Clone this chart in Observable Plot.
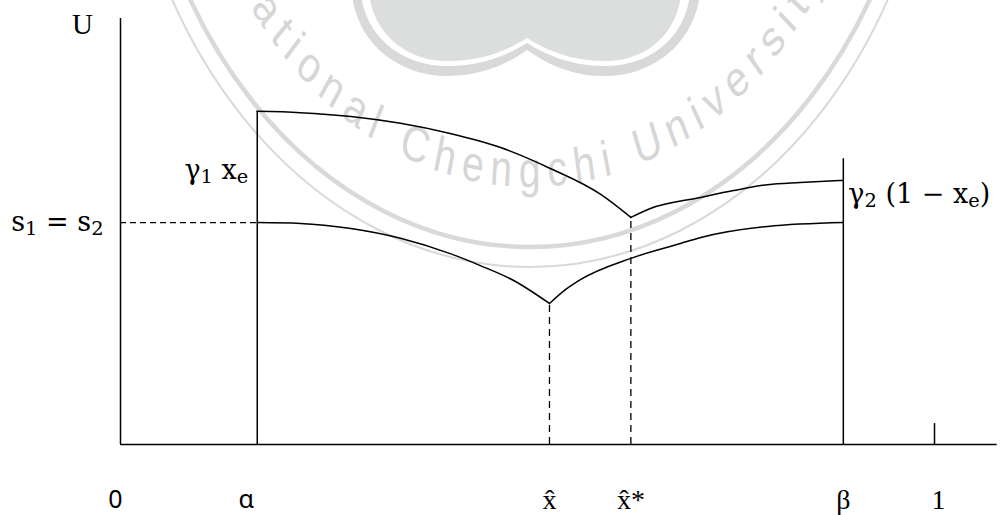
<!DOCTYPE html>
<html><head><meta charset="utf-8">
<script src="https://cdn.jsdelivr.net/npm/d3@7"></script>
<script src="https://cdn.jsdelivr.net/npm/@observablehq/plot@0.6"></script>
<style>
html,body{margin:0;padding:0;background:#fff;}
#chart svg{display:block;}
</style></head><body><div id="chart"></div>
<script>
// ---- key positions on the share axis (0 … 1) ----
const alpha = 0.168, xHat = 0.527, xStar = 0.627, beta = 0.888, one = 1;
const xAxisEnd = 1.077;
const uTop = 100;            // top of the U axis
const sLevel = 52.1;         // s1 = s2
const betaTop = 67.1;        // top of the β line
const oneTick = 4.9;         // small tick at 1

// ---- tick labels ----
const xLabelsSans = [{v: 0, t: "0"}, {v: alpha, t: "α"}];
const xLabelsSerif = [{v: xHat, t: "x̂"}, {v: xStar, t: "x̂*"}, {v: beta, t: "β"}];
const xLabelOne = [{v: one, t: "1"}];

// ---- curves ----
const upperLeftX = [0.168, 0.221, 0.283, 0.344, 0.405, 0.467, 0.528, 0.590, 0.627];
const upperLeftU = [78.2, 77.9, 77.0, 75.4, 73.0, 69.7, 64.8, 58.7, 53.3];
const upperRightX = [0.627, 0.651, 0.713, 0.753, 0.795, 0.835, 0.888];
const upperRightU = [53.3, 55.4, 58.0, 59.6, 61.0, 61.5, 62.0];
const lowerLeftX = [0.168, 0.221, 0.283, 0.344, 0.405, 0.442, 0.483, 0.527];
const lowerLeftU = [52.1, 51.9, 50.7, 48.4, 44.8, 42.0, 38.5, 33.1];
const lowerRightX = [0.527, 0.547, 0.565, 0.627, 0.688, 0.713, 0.795, 0.888];
const lowerRightU = [33.1, 36.4, 38.7, 43.7, 47.2, 48.6, 51.2, 52.1];

const pts = (xs, us) => xs.map((x, i) => ({x, u: us[i]}));
const upperLeft = pts(upperLeftX, upperLeftU);
const upperRight = pts(upperRightX, upperRightU);
const lowerLeft = pts(lowerLeftX, lowerLeftU);
const lowerRight = pts(lowerRightX, lowerRightU);

const serif = "'DejaVu Serif', serif";
const times = "'Liberation Serif', 'DejaVu Serif', serif";
const sans = "'Noto Sans', 'Open Sans', sans-serif";
const sw = 1.5;
const dash = "7,5";

const lab = (arr) => { const m = new Map(arr.map(d => [d.v, d.t])); return d => m.get(d); };

const plot = Plot.plot({
  width: 1000, height: 515,
  marginLeft: 120, marginRight: 66, marginTop: 18, marginBottom: 71,
  x: {domain: [0, 1]},
  y: {domain: [0, uTop]},
  style: {background: "white", color: "black"},
  marks: [
    // axes
    Plot.ruleX([0], {y1: 0, y2: uTop, strokeWidth: sw}),
    Plot.ruleY([0], {x1: 0, x2: xAxisEnd, strokeWidth: sw}),
    // vertical bounds
    Plot.ruleX([alpha], {y1: 0, y2: upperLeftU[0], strokeWidth: sw}),
    Plot.ruleX([beta], {y1: 0, y2: betaTop, strokeWidth: sw}),
    Plot.ruleX([one], {y1: 0, y2: oneTick, strokeWidth: sw}),
    // dashed guides
    Plot.ruleY([sLevel], {x1: 0, x2: alpha, strokeWidth: 1.3, strokeDasharray: "6,4"}),
    Plot.ruleX([xHat], {y1: 0, y2: lowerLeftU[lowerLeftU.length - 1], strokeWidth: 1.3, strokeDasharray: dash}),
    Plot.ruleX([xStar], {y1: 0, y2: upperLeftU[upperLeftU.length - 1], strokeWidth: 1.3, strokeDasharray: dash}),
    // curves
    Plot.line(upperLeft, {x: "x", y: "u", curve: "monotone-x", strokeWidth: sw}),
    Plot.line(upperRight, {x: "x", y: "u", curve: "monotone-x", strokeWidth: sw}),
    Plot.line(lowerLeft, {x: "x", y: "u", curve: "monotone-x", strokeWidth: sw}),
    Plot.line(lowerRight, {x: "x", y: "u", curve: "monotone-x", strokeWidth: sw}),
    // x tick labels
    Plot.axisX({ticks: [0], tickFormat: lab(xLabelsSans), label: null, tickSize: 0, tickPadding: 46, dx: -5, fontSize: 25, fontFamily: sans}),
    Plot.axisX({ticks: [alpha], tickFormat: lab(xLabelsSans), label: null, tickSize: 0, tickPadding: 46, dx: -11, fontSize: 25, fontFamily: sans}),
    Plot.axisX({ticks: xLabelsSerif.map(d => d.v), tickFormat: lab(xLabelsSerif), label: null, tickSize: 0, tickPadding: 45, fontSize: 28, fontFamily: times}),
    Plot.axisX({ticks: [one], tickFormat: lab(xLabelOne), label: null, tickSize: 0, tickPadding: 45, dx: 4, fontSize: 28, fontFamily: times}),
    // y label s1 = s2
    Plot.axisY({ticks: [sLevel], tickFormat: () => "s₁ = s₂", label: null, tickSize: 0, tickPadding: 17, fontSize: 27, fontFamily: serif}),
    // other labels
    Plot.text(["U"], {x: 0, y: uTop, dx: -38, dy: 6, text: d => d, fontSize: 29, fontFamily: times, lineAnchor: "middle"}),
    Plot.text(["γ₁ xₑ"], {x: alpha, y: upperLeftU[0], dx: -9, dy: 59, text: d => d, textAnchor: "end", fontSize: 27, fontFamily: serif, lineAnchor: "middle"}),
    Plot.text(["γ₂ (1 − xₑ)"], {x: beta, y: upperRightU[upperRightU.length - 1], dx: 5, dy: 14, text: d => d, textAnchor: "start", fontSize: 27, fontFamily: serif, lineAnchor: "middle"})
  ]
});

document.getElementById("chart").appendChild(plot);

// ---- typeset subscripts as real smaller, lowered text ----
const subMap = {"₁": "1", "₂": "2", "ₑ": "e"};
d3.select(plot).selectAll("text").each(function () {
  const el = this;
  const s = el.textContent;
  if (!/[₁₂ₑ]/.test(s)) return;
  el.textContent = "";
  let buf = "", lowered = false;
  const flush = (isSub) => {
    if (!buf) return;
    const t = document.createElementNS("http://www.w3.org/2000/svg", "tspan");
    t.textContent = buf;
    if (isSub) { t.setAttribute("font-size", "72%"); if (!lowered) { t.setAttribute("dy", "0.22em"); lowered = true; } }
    else if (lowered) { t.setAttribute("dy", "-0.16em"); lowered = false; }
    el.appendChild(t);
    buf = "";
  };
  let cur = false;
  for (const ch of s) {
    const isSub = ch in subMap;
    if (isSub !== cur) { flush(cur); cur = isSub; }
    buf += isSub ? subMap[ch] : ch;
  }
  flush(cur);
});

// ---- faint university watermark (background decoration) ----
const svg = d3.select(plot);
const wm = svg.insert("g", ":first-child").attr("class", "watermark");
const wmc = "#d9d9d9";
// logo
wm.append("path").attr("fill", wmc).attr("d", "M 352 -5 C 358 45, 400 76, 447 76 C 485 76, 510 62, 527 50 C 544 62, 569 76, 605 76 C 652 76, 693 45, 700 -5 Z");
wm.append("path").attr("fill", "white").attr("d", "M 361 -5 C 367 40, 405 66, 447 66 C 484 66, 509 54, 527 43 C 545 54, 570 66, 605 66 C 648 66, 684 40, 690 -5 Z");
wm.append("path").attr("fill", "#dcdddd").attr("d", "M 369 -5 C 375 36, 408 61, 447 61 C 483 61, 508 50, 527 38 C 546 50, 571 61, 605 61 C 645 61, 676 36, 681 -5 Z");
// rings and circular text (the seal is squeezed horizontally)
const seal = wm.append("g").attr("transform", "translate(530,-260) scale(0.78,1)");
seal.append("circle").attr("r", 527).attr("fill", "none").attr("stroke", wmc).attr("stroke-width", 2).attr("vector-effect", "non-scaling-stroke");
seal.append("circle").attr("r", 507).attr("fill", "none").attr("stroke", wmc).attr("stroke-width", 4.5).attr("vector-effect", "non-scaling-stroke");
const R = 447, a0 = 240 * Math.PI / 180, a1 = -60 * Math.PI / 180;
const p0 = [R * Math.cos(a0), R * Math.sin(a0)], p1 = [R * Math.cos(a1), R * Math.sin(a1)];
seal.append("defs").append("path").attr("id", "wmarc").attr("d", `M ${p0[0]} ${p0[1]} A ${R} ${R} 0 1 0 ${p1[0]} ${p1[1]}`);
seal.append("text").attr("fill", "#d6d6d6").attr("font-family", "'Liberation Sans', Arial, sans-serif").attr("font-size", 50).attr("letter-spacing", 10)
  .append("textPath").attr("href", "#wmarc").attr("startOffset", "50%").attr("text-anchor", "middle").text("National Chengchi University");
</script>
</body></html>
